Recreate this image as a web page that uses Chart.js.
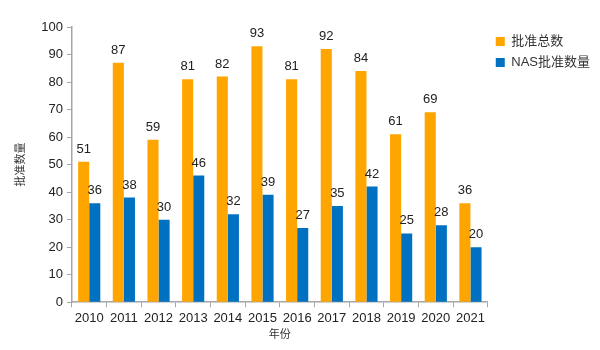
<!DOCTYPE html>
<html>
<head>
<meta charset="utf-8">
<script src="https://cdn.jsdelivr.net/npm/chart.js@4"></script>
<style>
  html, body { margin: 0; padding: 0; background: #fff; }
  #wrap { width: 600px; height: 350px; }
</style>
</head>
<body>
<div id="wrap"><canvas id="chart" width="600" height="350"></canvas></div>
<script>
// chart data
const years = ['2010', '2011', '2012', '2013', '2014', '2015', '2016', '2017', '2018', '2019', '2020', '2021'];
const totalApproved = [51, 87, 59, 81, 82, 93, 81, 92, 84, 61, 69, 36];
const nasApproved = [36, 38, 30, 46, 32, 39, 27, 35, 42, 25, 28, 20];

const fontFamily = '"Liberation Sans", "Noto Sans CJK SC", sans-serif';

// Plugin to draw value labels above bars
const valueLabels = {
    id: 'valueLabels',
    afterDatasetsDraw(chart) {
        const ctx = chart.ctx;
        ctx.save();
        ctx.font = '13px ' + fontFamily;
        ctx.fillStyle = '#222';
        ctx.textAlign = 'center';
        ctx.textBaseline = 'bottom';
        chart.data.datasets.forEach((ds, i) => {
            chart.getDatasetMeta(i).data.forEach((bar, j) => {
                ctx.fillText(ds.data[j], bar.x, bar.y - 6);
            });
        });
        ctx.restore();
    }
};

const ctx = document.getElementById('chart').getContext('2d');
new Chart(ctx, {
    type: 'bar',
    data: {
        labels: years,
        datasets: [{
            label: '批准总数',
            data: totalApproved,
            backgroundColor: '#FFA500',
            categoryPercentage: 0.64,
            barPercentage: 1.0
        }, {
            label: 'NAS批准数量',
            data: nasApproved,
            backgroundColor: '#0070C0',
            categoryPercentage: 0.64,
            barPercentage: 1.0
        }]
    },
    options: {
        responsive: false,
        animation: false,
        layout: { padding: { top: 27, right: 0, bottom: 8, left: 4 } },
        plugins: {
            legend: {
                position: 'right',
                align: 'start',
                labels: {
                    boxWidth: 9,
                    boxHeight: 9,
                    padding: 8,
                    color: '#333',
                    font: { size: 13, family: fontFamily }
                }
            },
            tooltip: { enabled: false }
        },
        scales: {
            x: {
                grid: { drawOnChartArea: false, tickLength: 5, color: '#a6a6a6' },
                border: { color: '#a6a6a6', width: 1.5 },
                ticks: { color: '#222', font: { size: 13, family: fontFamily }, maxRotation: 0 },
                title: { display: true, text: '年份', color: '#333', font: { size: 11, family: fontFamily }, padding: 0 }
            },
            y: {
                min: 0,
                max: 100,
                grid: { drawOnChartArea: false, tickLength: 5, color: '#a6a6a6' },
                border: { color: '#a6a6a6', width: 1.5 },
                ticks: { stepSize: 10, color: '#222', font: { size: 13, family: fontFamily }, padding: 4 },
                title: { display: true, text: '批准数量', color: '#333', font: { size: 11, family: fontFamily }, padding: 10 }
            }
        }
    },
    plugins: [valueLabels]
});
</script>
</body>
</html>
